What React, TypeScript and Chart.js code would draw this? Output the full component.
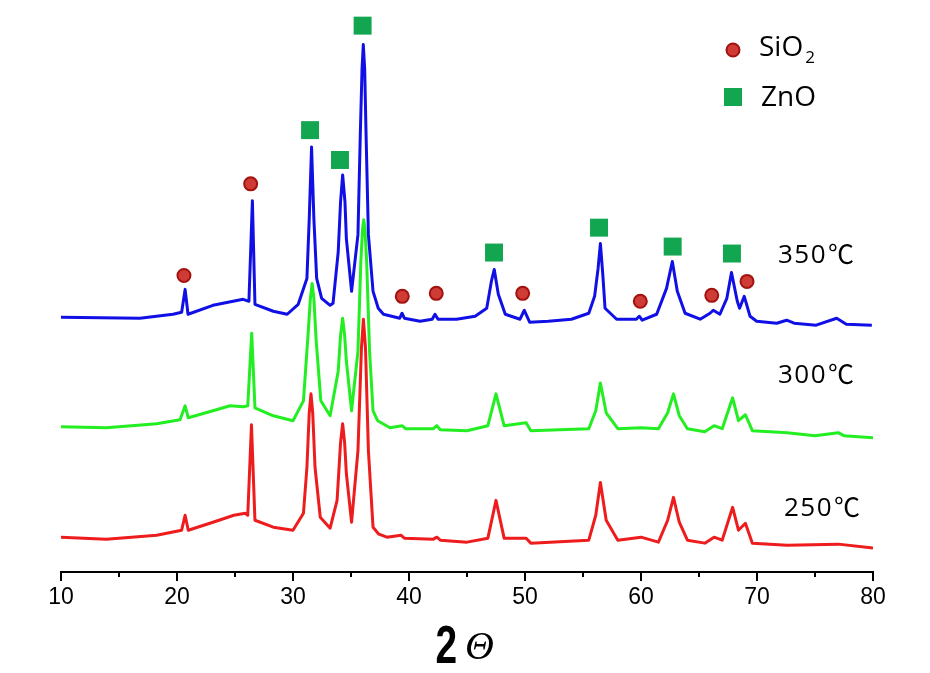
import { useEffect, useRef } from 'react';
import { Chart, registerables } from 'chart.js';
Chart.register(...registerables);

// 2θ positions and intensities (a.u., stacked offsets included)
const theta350 = [10, 16.8, 19.66, 20.4, 20.7, 20.95, 23.1, 25.7, 26.2, 26.5, 26.72, 28.3, 29.5, 30.45, 31.2, 31.4, 31.6, 31.8, 32.04, 32.47, 33.2, 33.45, 33.9, 34.1, 34.28, 34.48, 34.6, 35.05, 35.6, 35.8, 35.95, 36.06, 36.18, 36.3, 36.5, 36.9, 37.35, 37.8, 39.2, 39.4, 39.6, 40.95, 42.0, 42.24, 42.5, 44.1, 45.7, 46.7, 47.1, 47.35, 47.7, 48.3, 49.57, 49.94, 50.4, 52, 54, 55.5, 56.0, 56.3, 56.5, 56.7, 56.9, 57.9, 59.6, 59.85, 60.1, 61.35, 62.2, 62.7, 63.13, 63.8, 65.1, 65.95, 66.23, 66.8, 67.4, 67.8, 68.3, 68.5, 68.9, 69.4, 69.97, 71.7, 72.55, 73.2, 75.1, 76.87, 77.7, 79.9];
const int350 = [256, 255, 259, 261, 284, 259, 268, 274, 272, 373, 269, 262, 259, 269, 295, 355, 427, 355, 295, 275, 268, 270, 322, 372, 399, 372, 335, 282, 339, 439, 505, 530, 505, 439, 339, 282, 265, 259, 255, 260, 255, 252, 254, 259, 254, 254, 257, 265, 292, 304, 279, 259, 254, 263, 251, 252, 254, 260, 277, 305, 330, 300, 265, 254, 254, 257, 253, 259, 285, 312, 282, 260, 254, 260, 263, 259, 275, 301, 272, 265, 277, 257, 252, 250, 253, 250, 248, 255, 249, 248];

const theta300 = [10, 13.9, 18.25, 20.26, 20.7, 20.97, 23.1, 24.57, 25.7, 26.1, 26.44, 26.72, 28.3, 30.0, 30.9, 31.3, 31.5, 31.65, 31.8, 32.0, 32.4, 33.2, 33.9, 34.1, 34.28, 34.45, 34.6, 35.05, 35.6, 35.85, 36.0, 36.1, 36.2, 36.35, 36.6, 36.9, 37.3, 38.36, 39.4, 39.7, 42.1, 42.4, 42.7, 45, 46.8, 47.5, 48.2, 50.1, 50.5, 55.5, 56.1, 56.5, 57.0, 58, 60, 61.5, 62.3, 62.8, 63.3, 64, 65.5, 66.3, 67.0, 67.9, 68.4, 69.0, 69.6, 72.6, 75, 77, 77.5, 80];
const int300 = [146, 145, 149, 153, 167, 155, 162, 167, 166, 167, 240, 165, 157, 152, 172, 239, 275, 290, 275, 232, 172, 157, 202, 238, 255, 238, 212, 162, 222, 312, 345, 354, 345, 312, 222, 162, 152, 145, 147, 144, 144, 147, 143, 142, 147, 179, 147, 150, 142, 144, 162, 190, 160, 144, 145, 144, 160, 179, 157, 144, 141, 147, 144, 175, 152, 158, 142, 140, 137, 140, 137, 135];

const theta250 = [10, 13.9, 18.25, 20.4, 20.7, 20.97, 23.1, 24.9, 25.9, 26.1, 26.42, 26.72, 28.3, 30, 30.9, 31.2, 31.4, 31.55, 31.7, 31.9, 32.35, 33.2, 33.8, 34.1, 34.28, 34.45, 34.6, 35.05, 35.6, 35.9, 36.07, 36.25, 36.5, 36.9, 37.4, 38.1, 39.3, 39.6, 42.1, 42.4, 42.7, 45, 46.8, 47.5, 48.2, 50.1, 50.5, 55.5, 56.1, 56.5, 57.0, 58, 60, 61.5, 62.3, 62.8, 63.3, 64, 65.5, 66.3, 67.0, 67.9, 68.4, 69.0, 69.6, 72.6, 77, 80];
const int250 = [35, 33, 37, 42, 57, 42, 50, 57, 59, 57, 148, 52, 45, 42, 59, 105, 160, 179, 160, 105, 55, 44, 72, 130, 149, 130, 99, 50, 122, 225, 254, 225, 122, 45, 38, 35, 37, 34, 33, 35, 32, 30, 34, 72, 34, 34, 29, 32, 57, 90, 52, 32, 35, 30, 52, 75, 50, 32, 29, 35, 32, 65, 42, 49, 29, 27, 28, 24];

const sio2Theta = [20.6, 26.35, 39.42, 42.35, 49.8, 59.94, 66.1, 69.14];
const sio2Y = [298, 390, 277, 280, 280, 272, 278, 292];
const znoTheta = [31.47, 34.05, 36.0, 47.33, 56.38, 62.73, 67.84];
const znoY = [444, 414, 549, 321, 346, 327, 320];

const xTicks = [10, 20, 30, 40, 50, 60, 70, 80];
const minorTicks = [15, 25, 35, 45, 55, 65, 75];
const tempLabels = ['350℃', '300℃', '250℃'];
const legendNames = ['SiO', 'ZnO'];

const pts = (xs: number[], ys: number[]) => xs.map((x, i) => ({ x, y: ys[i] }));

const labelFont = '"Open Sans", "Noto Sans CJK KR", sans-serif';

const decor = {
  id: 'decor',
  afterDraw(chart: any) {
    const { ctx, chartArea, scales } = chart;
    const x = scales.x;
    ctx.save();
    // minor ticks
    ctx.strokeStyle = '#000';
    ctx.lineWidth = 2;
    minorTicks.forEach((v) => {
      const px = x.getPixelForValue(v);
      ctx.beginPath();
      ctx.moveTo(px, x.top);
      ctx.lineTo(px, x.top + 5);
      ctx.stroke();
    });
    // axis title 2Θ
    const cx = (chartArea.left + chartArea.right) / 2;
    ctx.fillStyle = '#000';
    ctx.textBaseline = 'alphabetic';
    ctx.save();
    ctx.translate(cx - 10, 663);
    ctx.scale(0.72, 1);
    ctx.font = 'bold 54px "Liberation Sans", Arial, sans-serif';
    ctx.textAlign = 'right';
    ctx.fillText('2', 0, 0);
    ctx.restore();
    ctx.font = 'italic 40px "Liberation Serif", serif';
    ctx.textAlign = 'left';
    ctx.fillText('Θ', cx - 2, 659);
    // temperature labels
    ctx.textAlign = 'left';
    const tPos = [[778, 263], [778, 383], [784, 516]];
    tempLabels.forEach((t, i) => {
      const num = t.slice(0, -1);
      const unit = t.slice(-1);
      ctx.font = '26px ' + labelFont;
      (ctx as any).letterSpacing = '1.5px';
      ctx.fillText(num, tPos[i][0], tPos[i][1]);
      const nw = ctx.measureText(num).width;
      (ctx as any).letterSpacing = '0px';
      ctx.font = '26px "Noto Sans CJK KR", sans-serif';
      ctx.fillText(unit, tPos[i][0] + nw + 1, tPos[i][1] + 1);
    });
    // legend
    ctx.beginPath();
    ctx.arc(733, 50, 6.5, 0, Math.PI * 2);
    ctx.fillStyle = '#cf3b35';
    ctx.fill();
    ctx.lineWidth = 2;
    ctx.strokeStyle = '#a3120f';
    ctx.stroke();
    ctx.fillStyle = '#12a650';
    ctx.fillRect(724, 88, 18, 18);
    ctx.fillStyle = '#000';
    ctx.font = '28px ' + labelFont;
    ctx.fillText(legendNames[0], 759, 56);
    const w = ctx.measureText(legendNames[0]).width;
    ctx.font = '17px ' + labelFont;
    ctx.fillText('2', 759 + w + 2, 63);
    ctx.font = '28px ' + labelFont;
    ctx.fillText(legendNames[1], 761, 106);
    ctx.restore();
  },
};

export default function App() {
  const ref = useRef<HTMLCanvasElement | null>(null);
  useEffect(() => {
    if (!ref.current) return;
    const line = (data: any, color: string, order: number) => ({
      type: 'line',
      data,
      borderColor: color,
      backgroundColor: color,
      borderWidth: 3,
      borderJoinStyle: 'round',
      pointRadius: 0,
      tension: 0,
      fill: false,
      order,
    });
    const chart = new Chart(ref.current, {
      type: 'line',
      data: {
        datasets: [
          {
            type: 'scatter',
            data: pts(sio2Theta, sio2Y),
            pointStyle: 'circle',
            pointRadius: 6.5,
            backgroundColor: '#cf3b35',
            borderColor: '#a3120f',
            borderWidth: 2,
            showLine: false,
            clip: false,
            order: 0,
          } as any,
          {
            type: 'scatter',
            data: pts(znoTheta, znoY),
            pointStyle: 'rect',
            pointRadius: 12.7,
            backgroundColor: '#12a650',
            borderColor: '#12a650',
            borderWidth: 0,
            showLine: false,
            clip: false,
            order: 0,
          } as any,
          line(pts(theta350, int350), '#1010e6', 1) as any,
          line(pts(theta250, int250), '#ee1c1c', 2) as any,
          line(pts(theta300, int300), '#22ee22', 3) as any,
        ],
      },
      options: {
        animation: false,
        responsive: true,
        maintainAspectRatio: false,
        layout: { padding: { left: 61, right: 57, top: 10, bottom: 0 } },
        plugins: { legend: { display: false }, tooltip: { enabled: false } },
        scales: {
          x: {
            type: 'linear',
            min: 10,
            max: 80,
            afterBuildTicks: (scale: any) => {
              scale.ticks = xTicks.map((v) => ({ value: v }));
            },
            afterFit: (scale: any) => {
              scale.height = 101;
            },
            ticks: {
              color: '#000',
              font: { family: '"Liberation Sans", Arial, sans-serif', size: 23 },
              padding: 3,
              maxRotation: 0,
              autoSkip: false,
            },
            grid: {
              drawOnChartArea: false,
              drawTicks: true,
              tickLength: 9,
              color: '#000',
              lineWidth: 2,
            },
            border: { display: true, color: '#000', width: 2 },
          },
          y: { display: false, min: 0, max: 562 },
        },
      },
      plugins: [decor],
    } as any);
    return () => chart.destroy();
  }, []);
  return (
    <div style={{ position: 'fixed', left: 0, top: 0, width: 930, height: 673, background: '#fff' }}>
      <canvas ref={ref} />
    </div>
  );
}
